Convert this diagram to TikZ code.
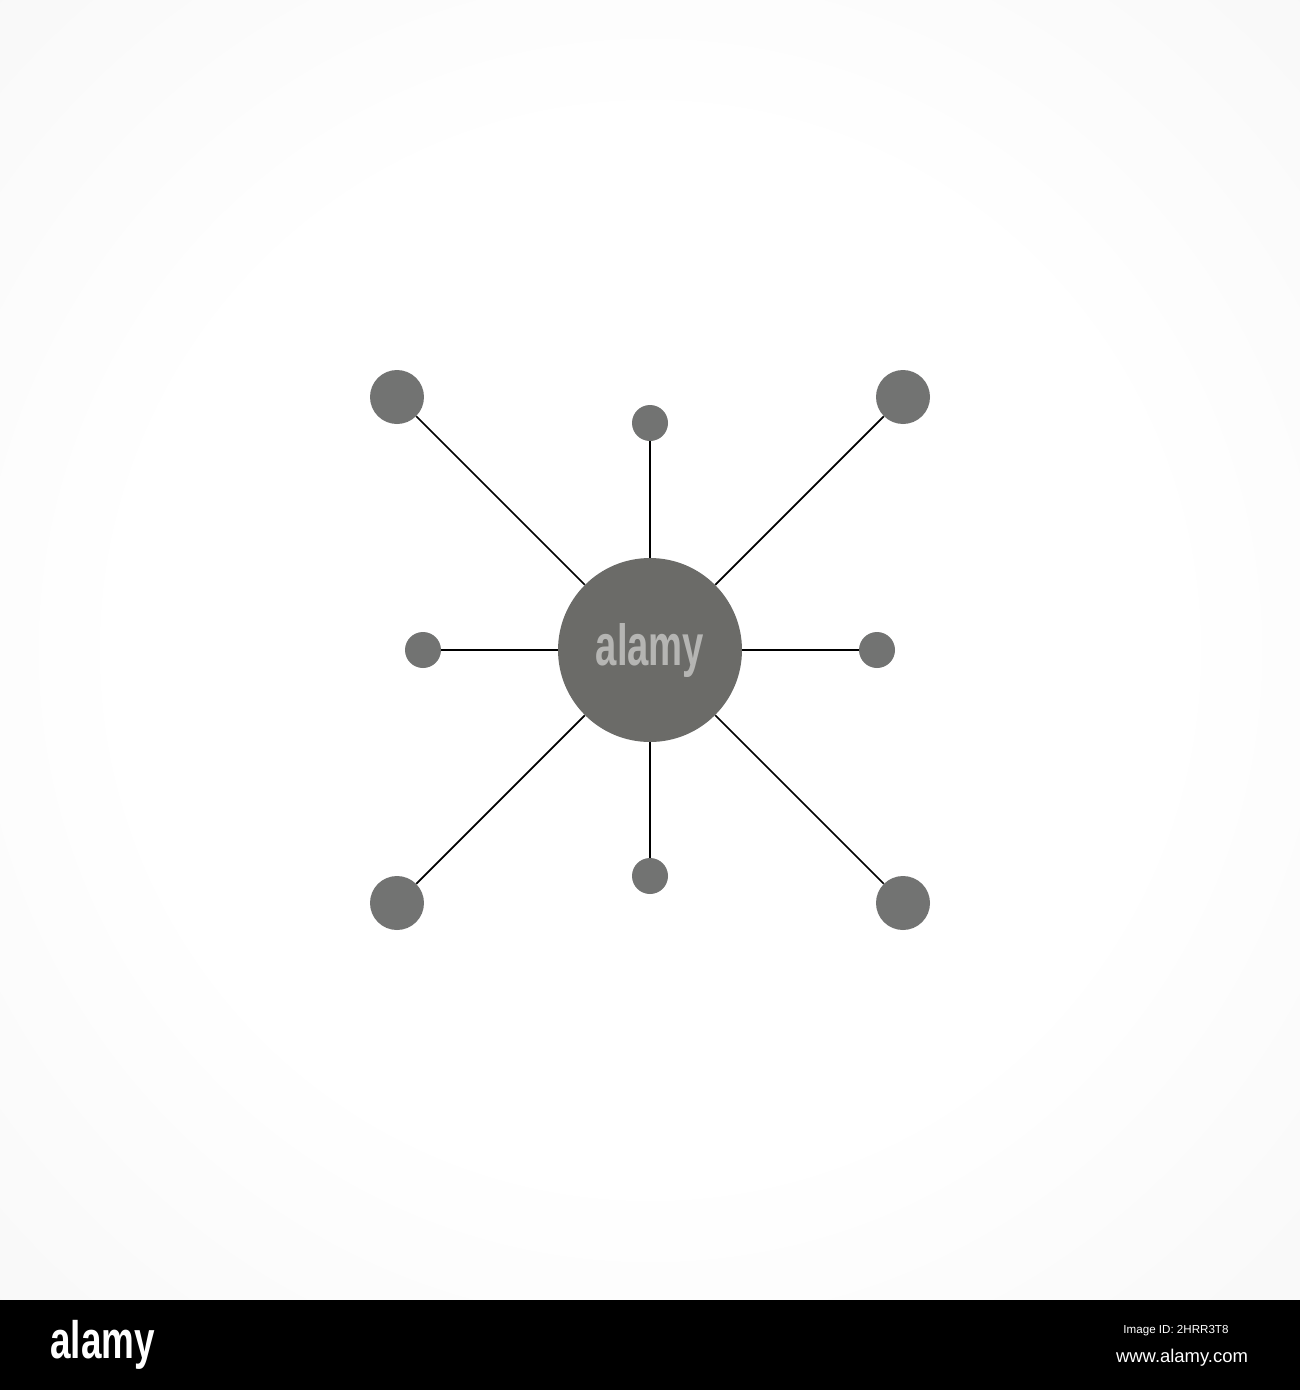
\documentclass[tikz,border=0pt]{standalone}
\usepackage{fontspec}
\setmainfont{Liberation Sans}
\usepackage{xcolor}
\usepackage{tikz}
\usetikzlibrary{shapes,arrows}
\usetikzlibrary{positioning}
\definecolor{hubgray}{HTML}{6B6B68}
\definecolor{dotgray}{HTML}{727372}
\definecolor{markgray}{HTML}{B5B5B3}
\pgfdeclareradialshading{glow}{\pgfpoint{0cm}{0cm}}{color(0bp)=(white); color(20bp)=(white); color(50bp)=(black!5); color(72bp)=(black!11)}
\tikzstyle{hub} = [circle, fill=hubgray, minimum size=3.68cm, inner sep=0pt,
    text=markgray, font=\bfseries\fontsize{33}{33}\selectfont]
\tikzstyle{big dot} = [circle, fill=dotgray, minimum size=1.08cm, inner sep=0pt]
\tikzstyle{small dot} = [circle, fill=dotgray, minimum size=0.72cm, inner sep=0pt]
\tikzstyle{spoke} = [draw, line width=1pt, -]
\tikzstyle{bar text} = [text=white, inner sep=0pt]

\begin{document}
\begin{tikzpicture}[x=0.02cm, y=-0.02cm]
  % Background
  \useasboundingbox (0,0) rectangle (1300,1390);
  \shade [shading=glow] (0,0) rectangle (1300,1300);
  \fill [black] (0,1300) rectangle (1300,1390);
  % Place nodes
  \node [hub] (hub) at (650,650) {\scalebox{0.66}[1]{alamy}};
  \node [big dot] (nw) at (397,397) {};
  \node [big dot] (ne) at (903,397) {};
  \node [big dot] (sw) at (397,903) {};
  \node [big dot] (se) at (903,903) {};
  \node [small dot] (n) at (650,423) {};
  \node [small dot] (s) at (650,876) {};
  \node [small dot] (w) at (423,650) {};
  \node [small dot] (e) at (877,650) {};
  % Draw edges
  \path [spoke] (hub) -- (nw);
  \path [spoke] (hub) -- (ne);
  \path [spoke] (hub) -- (sw);
  \path [spoke] (hub) -- (se);
  \path [spoke] (hub) -- (n);
  \path [spoke] (hub) -- (s);
  \path [spoke] (hub) -- (w);
  \path [spoke] (hub) -- (e);
  % Footer
  \node [bar text, anchor=west, font=\bfseries\fontsize{30}{30}\selectfont]
    (logo) at (50,1345) {\scalebox{0.7}[1]{alamy}};
  \node [bar text, font=\fontsize{6.6}{7}\selectfont] (imgid) at (1176,1331) {Image ID: 2HRR3T8};
  \node [bar text, font=\fontsize{10.5}{11}\selectfont] (site) at (1182,1358) {www.alamy.com};
\end{tikzpicture}
\end{document}
